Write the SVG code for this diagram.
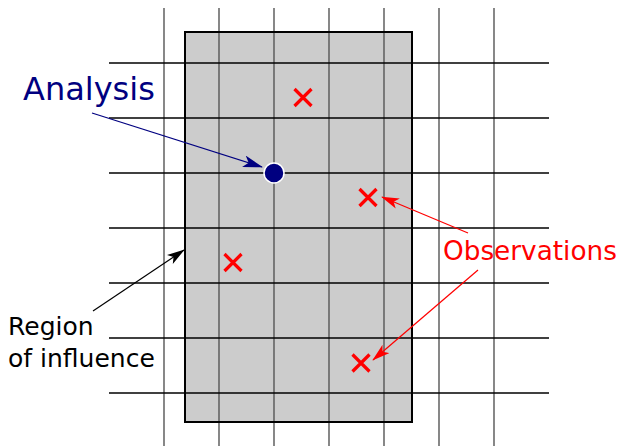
<svg xmlns="http://www.w3.org/2000/svg" width="619" height="446" viewBox="0 0 619 446">
<style>
.v{stroke:#555;stroke-width:1.4}
.h{stroke:#000;stroke-width:1.3}
.obs{stroke:#f00;stroke-width:3.2;stroke-linecap:butt}
text{font-family:"DejaVu Sans",sans-serif}
</style>
<defs>
<marker id="an" viewBox="0 0 20 12" refX="19" refY="6" markerWidth="20" markerHeight="12" markerUnits="userSpaceOnUse" orient="auto">
<path d="M0,0 L20,6 L0,12 L5,6 Z" fill="#000080"/>
</marker>
<marker id="ar" viewBox="0 0 20 12" refX="19" refY="6" markerWidth="18" markerHeight="11" markerUnits="userSpaceOnUse" orient="auto">
<path d="M0,0 L20,6 L0,12 L5,6 Z" fill="#f00"/>
</marker>
<marker id="ak" viewBox="0 0 20 12" refX="19" refY="6" markerWidth="18" markerHeight="11" markerUnits="userSpaceOnUse" orient="auto">
<path d="M0,0 L20,6 L0,12 L5,6 Z" fill="#000"/>
</marker>
</defs>
<g id="region">
<rect x="185" y="32" width="227" height="390" fill="#ccc"/>
</g>
<g id="grid">
<line class="v" x1="164" y1="8" x2="164" y2="446"/>
<line class="v" x1="219" y1="8" x2="219" y2="446"/>
<line class="v" x1="274" y1="8" x2="274" y2="446"/>
<line class="v" x1="329" y1="8" x2="329" y2="446"/>
<line class="v" x1="384" y1="8" x2="384" y2="446"/>
<line class="v" x1="439" y1="8" x2="439" y2="446"/>
<line class="v" x1="494" y1="8" x2="494" y2="446"/>
<line class="h" x1="109" y1="63" x2="549" y2="63"/>
<line class="h" x1="109" y1="118" x2="549" y2="118"/>
<line class="h" x1="109" y1="173" x2="549" y2="173"/>
<line class="h" x1="109" y1="228" x2="549" y2="228"/>
<line class="h" x1="109" y1="283" x2="549" y2="283"/>
<line class="h" x1="109" y1="338" x2="549" y2="338"/>
<line class="h" x1="109" y1="393" x2="549" y2="393"/>
</g>
<g id="region-border">
<rect x="185" y="32" width="227" height="390" fill="none" stroke="#000" stroke-width="2"/>
</g>
<g id="observations-marks">
<path class="obs" d="M294.5,89 L311.5,106 M311.5,89 L294.5,106"/>
<path class="obs" d="M359.5,189 L376.5,206 M376.5,189 L359.5,206"/>
<path class="obs" d="M224.5,254 L241.5,271 M241.5,254 L224.5,271"/>
<path class="obs" d="M352.5,354.5 L369.5,371.5 M369.5,354.5 L352.5,371.5"/>
</g>
<g id="analysis-point">
<circle cx="274" cy="173" r="10" fill="#000080" stroke="#fff" stroke-width="1.5"/>
</g>
<g id="connectors">
<line x1="92" y1="113" x2="262" y2="167" stroke="#000080" stroke-width="1.2" marker-end="url(#an)"/>
<line x1="468" y1="233" x2="382" y2="197" stroke="#f00" stroke-width="1.2" marker-end="url(#ar)"/>
<line x1="478" y1="270" x2="373" y2="360" stroke="#f00" stroke-width="1.2" marker-end="url(#ar)"/>
<line x1="93" y1="311" x2="184" y2="250" stroke="#000" stroke-width="1.2" marker-end="url(#ak)"/>
</g>
<g id="labels">
<text x="23" y="100" font-size="32" fill="#000080">Analysis</text>
<text x="443" y="260" font-size="26.3" fill="#f00">Observations</text>
<text x="8" y="335" font-size="25" fill="#000">Region</text>
<text x="8" y="367" font-size="25" fill="#000">of influence</text>
</g>
</svg>
